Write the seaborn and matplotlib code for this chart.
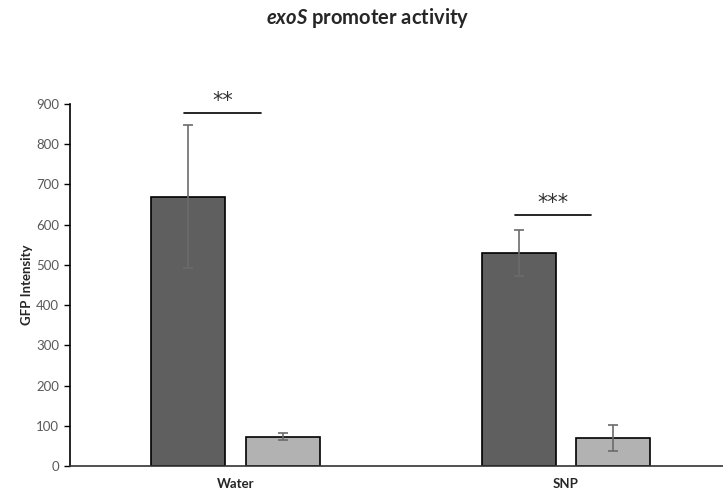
import numpy as np
import pandas as pd
import matplotlib
matplotlib.use("Agg")
import matplotlib.pyplot as plt
import seaborn as sns

# values
conditions = ["Water", "SNP"]
strains = ["A", "B"]
means = {"A": [670, 530], "B": [73, 70]}
errors = {"A": [178, 57], "B": [8, 33]}
stars = ["**", "***"]
star_heights = [878, 624]

rows = []
for s in strains:
    for i, c in enumerate(conditions):
        rows.append({"condition": c, "strain": s, "gfp": means[s][i], "err": errors[s][i]})
df = pd.DataFrame(rows)

sns.set_style("white")
plt.rcParams['font.family'] = ['Lato', 'DejaVu Sans']
plt.rcParams['mathtext.fontset'] = 'custom'
plt.rcParams['mathtext.bfit'] = 'Lato:bold:italic'

fig = plt.figure(figsize=(7.23, 4.97), dpi=100)
ax = fig.add_axes([70 / 723, 1 - 466 / 497, 1 - 70 / 723, (466 - 104) / 497])

sns.barplot(data=df, x="condition", y="gfp", hue="strain", order=conditions,
            hue_order=strains, palette=["#5f5f5f", "#b2b2b2"], width=0.573, gap=0.22,
            edgecolor="black", linewidth=1.2, errorbar=None, legend=False, ax=ax)

# error bars on top of the bars seaborn drew
for container, s in zip(ax.containers, strains):
    xs = [p.get_x() + p.get_width() / 2 for p in container.patches]
    ax.errorbar(xs, means[s], yerr=errors[s], fmt="none", ecolor="#6b6b6b",
                elinewidth=1.2, capsize=3.5, capthick=1.2, zorder=5)

# significance markers
dark = ax.containers[0].patches
for p, st, h in zip(dark, stars, star_heights):
    cx = p.get_x() + p.get_width() / 2
    ax.plot([cx - 0.012, cx + 0.22], [h, h], color="black", lw=1.2, clip_on=False)
    ax.text(cx + 0.104, h + 4, st, ha="center", va="bottom", fontsize=15,
            color="#333333", family="DejaVu Sans", clip_on=False)

ax.set_xlim(-0.501, 1.475)
ax.set_ylim(0, 900)
ax.set_yticks(np.arange(0, 901, 100))
ax.tick_params(axis="y", labelsize=9.5, labelcolor="#595959", length=4, width=1,
               direction="out", left=True, color="black", pad=4)
ax.tick_params(axis="x", labelsize=9.5, length=0, pad=9)
for lab in ax.get_xticklabels():
    lab.set_fontweight("bold")
for side in ["top", "right"]:
    ax.spines[side].set_visible(False)
ax.spines["left"].set_color("black")
ax.spines["bottom"].set_color("#333333")
ax.spines["left"].set_linewidth(1.2)
ax.spines["bottom"].set_linewidth(1.2)

ax.set_xlabel("")
ax.set_ylabel("GFP Intensity", fontsize=9.5, fontweight="bold", labelpad=2)

fig.text(0.508, 1 - 18 / 497, r"$\mathbfit{exoS}$ promoter activity", ha="center",
         va="center", fontsize=14.5, fontweight="bold")

fig.savefig("out.png", dpi=100)
